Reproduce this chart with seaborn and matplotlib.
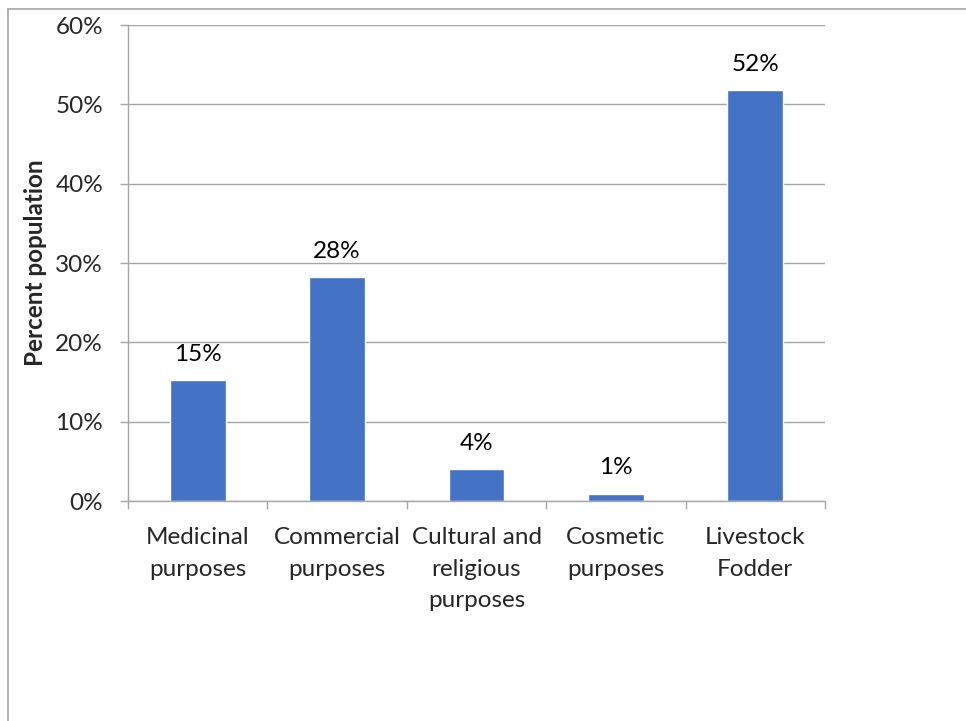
import matplotlib
matplotlib.use("Agg")
import matplotlib.pyplot as plt
from matplotlib.lines import Line2D
from matplotlib.ticker import PercentFormatter, FixedLocator
import seaborn as sns
import pandas as pd

categories = ["Medicinal\npurposes", "Commercial\npurposes", "Cultural and\nreligious\npurposes",
              "Cosmetic\npurposes", "Livestock\nFodder"]
shares = [0.152, 0.282, 0.040, 0.009, 0.518]
y_ticks = [0.0, 0.1, 0.2, 0.3, 0.4, 0.5, 0.6]

sns.set_theme(style="white")
plt.rcParams["font.family"] = ["Lato", "DejaVu Sans"]

grey = "#A6A6A6"
bar_color = "#4472C4"
fs = 17.5

df = pd.DataFrame({"use": categories, "share": shares})

fig = plt.figure(figsize=(9.66, 7.21), dpi=100)
ax = fig.add_axes([128 / 966, 1 - 501 / 721, (825 - 128) / 966, (501 - 25) / 721])

sns.barplot(data=df, x="use", y="share", color=bar_color, width=0.4, saturation=1, ax=ax)

ax.set_xlim(-0.5, len(categories) - 0.5)
ax.set_ylim(0, 0.6)
ax.yaxis.set_major_locator(FixedLocator(y_ticks))
ax.yaxis.set_major_formatter(PercentFormatter(1.0, decimals=0))
ax.grid(axis="y", color=grey, linewidth=1)
ax.set_axisbelow(True)

for side in ["top", "right"]:
    ax.spines[side].set_visible(False)
for side in ["left", "bottom"]:
    ax.spines[side].set_color(grey)
    ax.spines[side].set_linewidth(1)

ax.tick_params(axis="y", which="major", length=6, width=1, color=grey, labelsize=fs, pad=12, left=True)
ax.tick_params(axis="x", which="major", length=0, labelsize=fs, pad=19)
ax.xaxis.set_minor_locator(FixedLocator([i - 0.5 for i in range(len(categories) + 1)]))
ax.tick_params(axis="x", which="minor", length=6, width=1, color=grey, bottom=True)
for lab in ax.get_xticklabels():
    lab.set_linespacing(1.62)

ax.set_xlabel("")
ax.set_ylabel("Percent population", fontsize=fs, fontweight="bold", labelpad=6)

for i, v in enumerate(shares):
    ax.annotate(f"{v:.0%}", (i, v), xytext=(0, 14), textcoords="offset points",
                ha="center", va="baseline", fontsize=fs, color="#000000")

# thin frame around the chart area
fig.add_artist(Line2D([8 / 966, 8 / 966], [0, 1 - 9 / 721], transform=fig.transFigure,
                      color=grey, linewidth=1.2))
fig.add_artist(Line2D([8 / 966, 1], [1 - 9 / 721, 1 - 9 / 721], transform=fig.transFigure,
                      color=grey, linewidth=1.2))

fig.savefig("out.png", dpi=100, facecolor="white")
